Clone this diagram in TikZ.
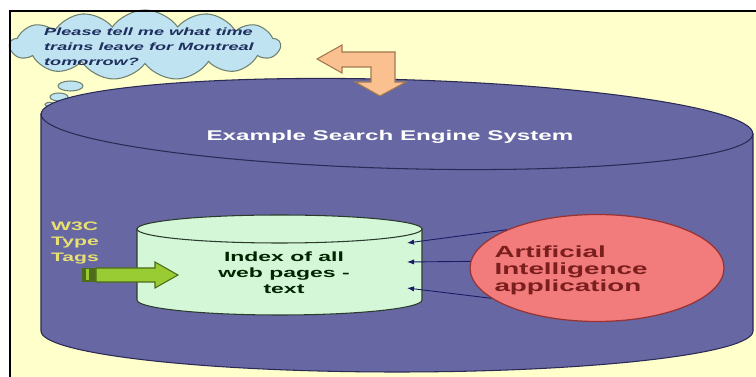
\documentclass[tikz,border=0pt]{standalone}
\usepackage{fontspec}
\usepackage{xcolor}
\usepackage{tikz}
\usetikzlibrary{shapes, arrows.meta, positioning, calc}
\newfontfamily\widesf{Liberation Sans}[FakeStretch=1.72]
\definecolor{slidebg}{HTML}{FFFFCC}
\definecolor{cylpurple}{HTML}{6667A3}
\definecolor{cyledge}{HTML}{2A2A55}
\definecolor{mint}{HTML}{D4F7D8}
\definecolor{mintedge}{HTML}{2B3B2B}
\definecolor{salmon}{HTML}{F27C7C}
\definecolor{salmonedge}{HTML}{993333}
\definecolor{maroon}{HTML}{7A1E1E}
\definecolor{leaf}{HTML}{99CC33}
\definecolor{leafedge}{HTML}{4D6B1A}
\definecolor{peach}{HTML}{FAC090}
\definecolor{peachedge}{HTML}{A07850}
\definecolor{sky}{HTML}{BFE3F0}
\definecolor{skyedge}{HTML}{6E8070}
\definecolor{navy}{HTML}{1F2F5F}
\definecolor{tagyellow}{HTML}{E8E070}
\definecolor{arrowblue}{HTML}{1A1A66}

\begin{document}
\begin{tikzpicture}[
                x=0.02cm, y=-0.02cm,
                bigcyl/.style={fill=cylpurple, draw=cyledge, line width=0.6pt},
                smallcyl/.style={fill=mint, draw=mintedge, line width=0.6pt},
                thought/.style={cloud, cloud puffs=13, cloud puff arc=110, cloud ignores aspect,
                    fill=sky, draw=skyedge, line width=0.6pt},
                bubble/.style={fill=sky, draw=skyedge, line width=0.6pt},
                app/.style={ellipse, fill=salmon, draw=salmonedge, line width=0.7pt,
                    minimum width=5.08cm, minimum height=2.14cm},
                blockarrow/.style={line width=0.6pt, line join=miter},
                line/.style={draw=arrowblue, line width=0.5pt, -{Latex[length=4pt,width=3pt]}}
            ]
            \useasboundingbox (0,0) rectangle (756,377);
            \fill[slidebg] (10,11) rectangle (756,377);

            % thought cloud
            \node[thought, minimum width=5.4cm, minimum height=1.4cm] (cloud) at (145,45) {};
            \node[align=left, inner sep=0pt, text=navy,
                  font=\widesf\bfseries\itshape\fontsize{6}{8.6}\selectfont] (question) at (149,47)
                  {Please tell me what time\\trains leave for Montreal\\tomorrow?};
            \draw[bubble] (70.5,86) ellipse[x radius=12.5, y radius=5];
            \draw[bubble] (59,97) ellipse[x radius=9, y radius=4];
            \draw[bubble] (49.5,104.5) ellipse[x radius=4.5, y radius=2.2];

            % search engine cylinder
            \draw[bigcyl] (41,114) -- (41,331)
                arc[start angle=180, end angle=0, x radius=356, y radius=41] -- (753,134) -- cycle;
            \draw[bigcyl, rotate around={-1.6:(397,124)}] (397,124) ellipse[x radius=356, y radius=44.5];
            \node[text=white, font=\widesf\bfseries\fontsize{8}{9.6}\selectfont] (title) at (390,137)
                {Example Search Engine System};

            % query arrow
            \draw[blockarrow, fill=peach, draw=peachedge]
                (317,59) -- (342,45) -- (342,52) -- (395,52) -- (395,82) -- (406,82)
                -- (380,96) -- (355,82) -- (371,82) -- (371,67) -- (342,67) -- (342,73) -- cycle;

            % index cylinder
            \draw[smallcyl] (137,229) -- (137,300)
                arc[start angle=180, end angle=0, x radius=142.5, y radius=15] -- (422,229) -- cycle;
            \draw[smallcyl] (279.5,229) ellipse[x radius=142.5, y radius=14];
            \node[align=center, inner sep=0pt, text=black!85!green,
                  font=\widesf\bfseries\fontsize{7.6}{9.2}\selectfont] (idx) at (284,273)
                  {Index of all\\web pages -\\text};

            % W3C tags
            \node[align=left, inner sep=0pt, text=tagyellow,
                  font=\widesf\bfseries\fontsize{7}{8.6}\selectfont] (tags) at (75,243)
                  {W3C\\Type\\Tags};
            \fill[leafedge] (82,268) rectangle (95,282);
            \fill[leaf] (85.5,269.5) rectangle (89,280.5);
            \draw[blockarrow, fill=leaf, draw=leafedge]
                (96,268) -- (155,268) -- (155,262) -- (178,275) -- (155,288) -- (155,282) -- (96,282) -- cycle;

            % AI application
            \node[app] (ai) at (597,268) {};
            \node[align=left, inner sep=0pt, text=maroon,
                  font=\widesf\bfseries\fontsize{9.2}{9.7}\selectfont] (aitext) at (571,270)
                  {Artificial\\Intelligence\\application};
            \coordinate (in1) at (407,243);
            \coordinate (in2) at (407,262);
            \coordinate (in3) at (407,288);
            \draw[line] (ai.157) -- (in1);
            \draw[line] (ai.177) -- (in2);
            \draw[line] (ai.196) -- (in3);

            % slide frame
            \draw[black, line width=1.4pt] (10,377) -- (10,11) -- (756,11);
        \end{tikzpicture}
\end{document}
